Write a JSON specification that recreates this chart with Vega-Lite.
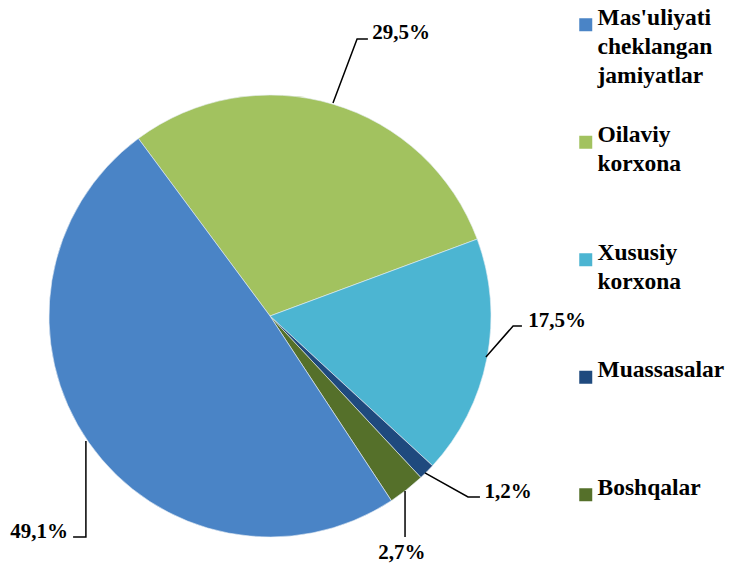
{
  "$schema": "https://vega.github.io/schema/vega-lite/v6.json",
  "width": 729,
  "height": 563,
  "autosize": {"type": "none"},
  "padding": 0,
  "background": "white",
  "config": {
    "view": {"stroke": null},
    "font": "Liberation Serif",
    "style": {"guide-label": {"lineHeight": 29}}
  },
  "datasets": {
    "slices": [
      {"category": "Oilaviy korxona", "share": 29.5, "rank": 1},
      {"category": "Xususiy korxona", "share": 17.5, "rank": 2},
      {"category": "Muassasalar", "share": 1.2, "rank": 3},
      {"category": "Boshqalar", "share": 2.7, "rank": 4},
      {"category": "Mas'uliyati cheklangan jamiyatlar", "share": 49.1, "rank": 5}
    ],
    "leaders": [
      {"label": "29,5%", "step": 1, "x": 0.285, "y": 0.964},
      {"label": "29,5%", "step": 2, "x": 0.394, "y": 1.253},
      {"label": "29,5%", "step": 3, "x": 0.443, "y": 1.253},
      {"label": "17,5%", "step": 1, "x": 0.977, "y": -0.186},
      {"label": "17,5%", "step": 2, "x": 1.100, "y": -0.045},
      {"label": "17,5%", "step": 3, "x": 1.140, "y": -0.045},
      {"label": "1,2%", "step": 1, "x": 0.701, "y": -0.710},
      {"label": "1,2%", "step": 2, "x": 0.896, "y": -0.819},
      {"label": "1,2%", "step": 3, "x": 0.950, "y": -0.819},
      {"label": "2,7%", "step": 1, "x": 0.611, "y": -0.792},
      {"label": "2,7%", "step": 2, "x": 0.611, "y": -1.000},
      {"label": "49,1%", "step": 1, "x": -0.833, "y": -0.566},
      {"label": "49,1%", "step": 2, "x": -0.833, "y": -1.000},
      {"label": "49,1%", "step": 3, "x": -0.891, "y": -1.000}
    ],
    "labels": [
      {"label": "29,5%", "x": 0.593, "y": 1.281},
      {"label": "17,5%", "x": 1.299, "y": -0.023},
      {"label": "1,2%", "x": 1.077, "y": -0.796},
      {"label": "2,7%", "x": 0.597, "y": -1.071},
      {"label": "49,1%", "x": -1.045, "y": -0.977}
    ]
  },
  "layer": [
    {
      "data": {"name": "slices"},
      "mark": {"type": "arc", "outerRadius": 221, "stroke": "#e8eef5", "strokeWidth": 0.6},
      "encoding": {
        "x": {"datum": 0, "type": "quantitative", "scale": {"domain": [-1.2217, 2.0769], "nice": false, "zero": false}, "axis": null},
        "y": {"datum": 0, "type": "quantitative", "scale": {"domain": [-1.1176, 1.4299], "nice": false, "zero": false}, "axis": null},
        "theta": {"field": "share", "type": "quantitative", "stack": true, "scale": {"range": [-0.6381, 5.6451]}},
        "order": {"field": "rank", "type": "quantitative"},
        "color": {
          "field": "category",
          "type": "nominal",
          "scale": {
            "domain": ["Mas'uliyati cheklangan jamiyatlar", "Oilaviy korxona", "Xususiy korxona", "Muassasalar", "Boshqalar"],
            "range": ["#4A84C6", "#A2C25F", "#4CB5D2", "#1F4A7E", "#55702A"]
          },
          "legend": {
            "orient": "none",
            "legendX": 574,
            "legendY": 13,
            "title": null,
            "symbolType": "square",
            "symbolSize": 169,
            "symbolStrokeWidth": 0,
            "symbolOpacity": 1,
            "labelFont": "Liberation Serif",
            "labelFontWeight": "bold",
            "labelFontSize": 23.5,
            "labelColor": "#000000",
            "labelExpr": "split(datum.label, ' ')",
            "labelBaseline": "alphabetic",
            "labelOffset": 0,
            "labelLimit": 300,
            "gridAlign": "all",
            "rowPadding": 34.5,
            "direction": "vertical",
            "encode": {"labels": {"update": {"lineHeight": {"value": 29}, "dy": {"value": 8}}}}
          }
        }
      }
    },
    {
      "data": {"name": "leaders"},
      "mark": {"type": "line", "color": "#000000", "strokeWidth": 1.5},
      "encoding": {
        "x": {"field": "x", "type": "quantitative", "scale": {"domain": [-1.2217, 2.0769], "nice": false, "zero": false}, "axis": null},
        "y": {"field": "y", "type": "quantitative", "scale": {"domain": [-1.1176, 1.4299], "nice": false, "zero": false}, "axis": null},
        "detail": {"field": "label", "type": "nominal"},
        "order": {"field": "step", "type": "quantitative"}
      }
    },
    {
      "data": {"name": "labels"},
      "mark": {"type": "text", "font": "Liberation Serif", "fontWeight": "bold", "fontSize": 21, "color": "#000000", "align": "center", "baseline": "middle"},
      "encoding": {
        "x": {"field": "x", "type": "quantitative", "scale": {"domain": [-1.2217, 2.0769], "nice": false, "zero": false}, "axis": null},
        "y": {"field": "y", "type": "quantitative", "scale": {"domain": [-1.1176, 1.4299], "nice": false, "zero": false}, "axis": null},
        "text": {"field": "label", "type": "nominal"}
      }
    }
  ]
}
